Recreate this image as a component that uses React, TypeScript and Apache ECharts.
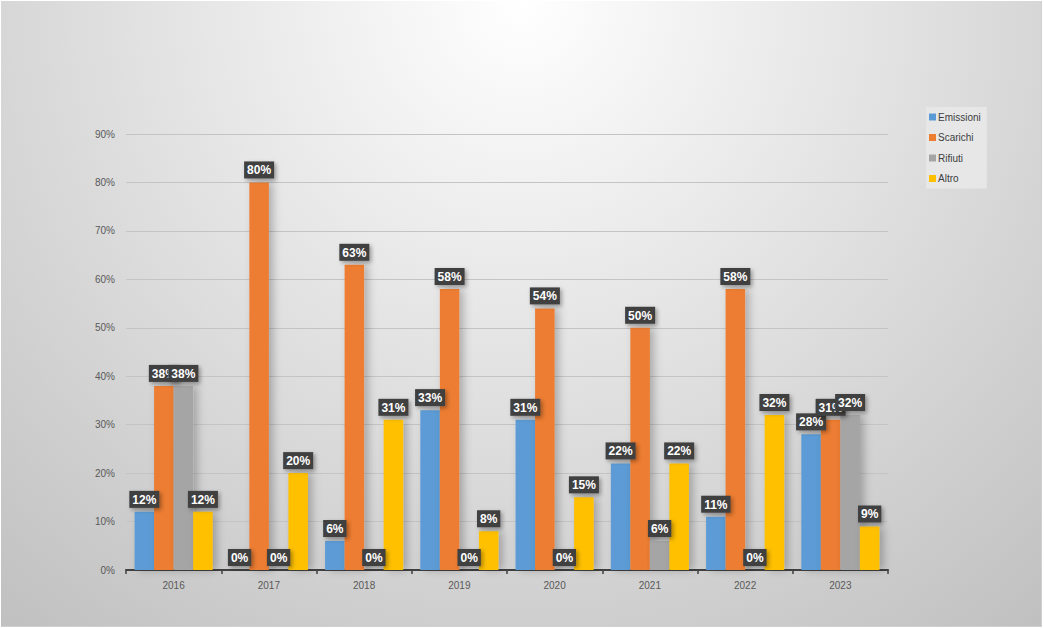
import React, { useEffect, useRef } from "react";
import * as echarts from "echarts";

const categories = ["2016", "2017", "2018", "2019", "2020", "2021", "2022", "2023"];
const emissioni = [12, 0, 6, 33, 31, 22, 11, 28];
const scarichi = [38, 80, 63, 58, 54, 50, 58, 31];
const rifiuti = [38, 0, 0, 0, 0, 6, 0, 32];
const altro = [12, 20, 31, 8, 15, 22, 32, 9];
const seriesNames = ["Emissioni", "Scarichi", "Rifiuti", "Altro"];
const colors = ["#5B9BD5", "#ED7D31", "#A5A5A5", "#FFC000"];

const FONT = "'Liberation Sans', sans-serif";

export default function App() {
  const ref = useRef<HTMLDivElement>(null);
  useEffect(() => {
    document.body.style.margin = "0";
    const chart = echarts.init(ref.current!, null, { renderer: "svg" });
    const dataSets = [emissioni, scarichi, rifiuti, altro];
    chart.setOption({
      animation: false,
      textStyle: { fontFamily: FONT },
      legend: {
        orient: "vertical",
        left: 925,
        top: 106,
        data: seriesNames,
        icon: "rect",
        itemWidth: 7,
        itemHeight: 7,
        itemGap: 8.5,
        padding: [4, 6, 4, 3],
        backgroundColor: "rgba(232,232,232,0.9)",
        textStyle: { fontSize: 10, color: "#404040", fontFamily: FONT, padding: [0, 0, 0, -3], lineHeight: 12 },
      },
      grid: { left: 125, right: 153, top: 133, bottom: 56, containLabel: false },
      xAxis: {
        type: "category",
        data: categories,
        axisLine: { lineStyle: { color: "#404040", width: 2 } },
        axisTick: { show: true, length: 4, lineStyle: { color: "#404040", width: 1.5 } },
        axisLabel: { fontSize: 10, color: "#595959", margin: 10, fontFamily: FONT },
      },
      yAxis: {
        type: "value",
        min: 0,
        max: 90,
        interval: 10,
        axisLine: { show: false },
        axisTick: { show: false },
        axisLabel: { formatter: "{value}%", fontSize: 10, color: "#595959", margin: 11, fontFamily: FONT },
        splitLine: { lineStyle: { color: "#c4c4c4", width: 1 } },
      },
      series: seriesNames.map((name, i) => ({
        name,
        type: "bar",
        data: dataSets[i],
        barGap: "0%",
        barCategoryGap: "18%",
        itemStyle: {
          color: colors[i],
          shadowBlur: 8,
          shadowColor: "rgba(0,0,0,0.25)",
          shadowOffsetX: 4,
          shadowOffsetY: 0,
        },
        label: {
          show: true,
          position: "top",
          distance: 4,
          formatter: "{c}%",
          color: "#ffffff",
          fontWeight: "bold",
          fontSize: 12,
          fontFamily: FONT,
          backgroundColor: "#404040",
          padding: [3, 3, 2, 3],
          shadowBlur: 4,
          shadowColor: "rgba(0,0,0,0.35)",
          shadowOffsetX: 2,
          shadowOffsetY: 2,
        },
      })),
    });
    return () => chart.dispose();
  }, []);
  return (
    <div
      style={{
        position: "absolute",
        left: 0,
        top: 0,
        width: 1044,
        height: 628,
        background: "#ffffff",
      }}
    >
      <div
        ref={ref}
        style={{
          position: "absolute",
          left: 1,
          top: 1,
          width: 1040,
          height: 625,
          background: "radial-gradient(circle farthest-corner at 50% 0%, #ffffff 0%, #c0c0c0 100%)",
          borderRight: "1px solid #d0d0d0",
          borderBottom: "1px solid #d0d0d0",
        }}
      />
    </div>
  );
}
